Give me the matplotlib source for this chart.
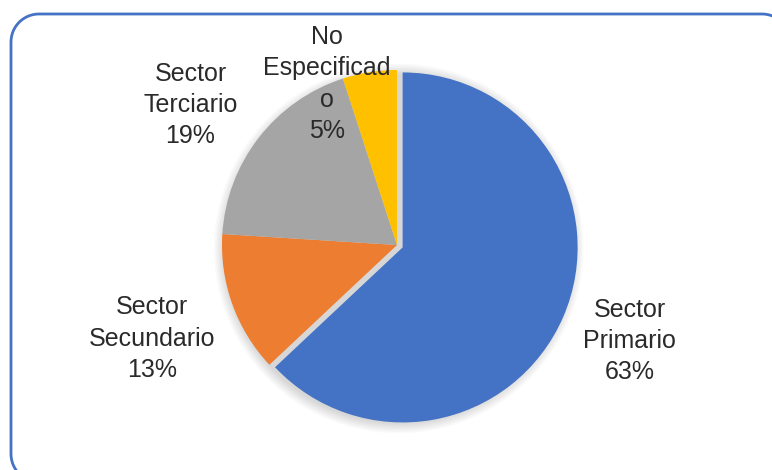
import numpy as np
import matplotlib
matplotlib.use("Agg")
import matplotlib.pyplot as plt
from matplotlib.patches import Circle

# Chart data
sectors = ["Sector\nPrimario", "Sector\nSecundario", "Sector\nTerciario", "No\nEspecificad\no"]
shares = [63, 13, 19, 5]
colors = ["#4472C4", "#ED7D31", "#A5A5A5", "#FFC000"]
explode = [0.035, 0, 0, 0]

# label centres in pie data units (radius = 1)
label_pos = [(1.33, -0.55), (-1.40, -0.535), (-1.18, 0.80), (-0.40, 0.92)]

plt.rcParams["font.family"] = ["Liberation Sans", "DejaVu Sans"]

fig = plt.figure(figsize=(7.72, 4.70), dpi=100)

# background axes in pixel units for the rounded frame
bg = fig.add_axes([0, 0, 1, 1])
bg.set_xlim(0, 772)
bg.set_ylim(470, 0)
bg.axis("off")

def arc(cx, cy, r, a0, a1):
    t = np.radians(np.linspace(a0, a1, 20))
    return cx + r * np.cos(t), cy + r * np.sin(t)

# open outline: frame runs off the right and bottom of the picture
rad = 28
left, top, right, bottom = 11, 14, 790, 482
xs, ys = [left + rad], [bottom]
ax_, ay_ = arc(left + rad, bottom - rad, rad, 90, 180)
xs += list(ax_); ys += list(ay_)
ax_, ay_ = arc(left + rad, top + rad, rad, 180, 270)
xs += list(ax_); ys += list(ay_)
ax_, ay_ = arc(right - rad, top + rad, rad, 270, 360)
xs += list(ax_); ys += list(ay_)
xs.append(right); ys.append(bottom)
bg.plot(xs, ys, color="#4472C4", linewidth=2, clip_on=False,
        solid_capstyle="round")

# pie axes: centre at (397, 245) px, radius 175 px
r_px = 175
half = 1.2 * r_px
ax = fig.add_axes([(397 - half) / 772, (470 - 245 - half) / 470,
                   2 * half / 772, 2 * half / 470])

# soft shadow behind the pie
for k in range(8):
    ax.add_patch(Circle((0.01, -0.02), 1.0 + 0.008 * k, color="black",
                        alpha=0.018, linewidth=0, zorder=0))

wedges, _ = ax.pie(shares, colors=colors, explode=explode, startangle=90,
                   counterclock=False, radius=1.0,
                   wedgeprops=dict(linewidth=0), frame=True)
ax.set_xlim(-1.2, 1.2)
ax.set_ylim(-1.2, 1.2)
ax.set_aspect("equal")
ax.axis("off")

for name, val, (x, y) in zip(sectors, shares, label_pos):
    ax.text(x, y, f"{name}\n{val}%", ha="center", va="center",
            fontsize=18, color="#2a2a2a", linespacing=1.38)

fig.savefig("out.png", dpi=100)
